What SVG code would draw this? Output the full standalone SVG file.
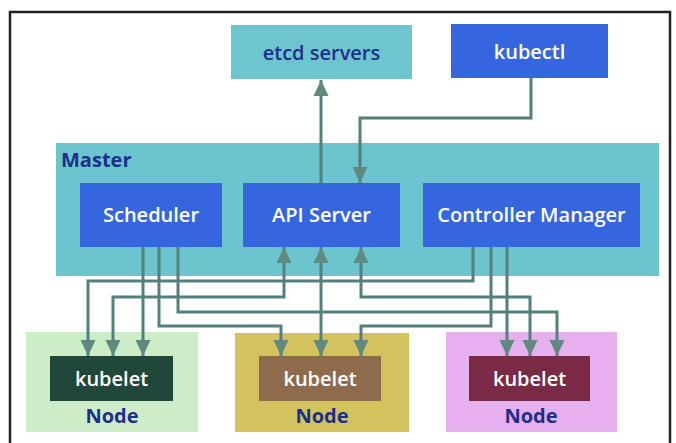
<svg xmlns="http://www.w3.org/2000/svg" width="676" height="443" viewBox="0 0 676 443">
<defs>
<style>
.lbl{font-family:"Open Sans","Liberation Sans",sans-serif;font-weight:600;font-size:20px;text-anchor:middle}
.w{fill:#ffffff}
.navy{fill:#1c2f8c}
.bold{font-weight:700}
.conn path{fill:none;stroke:#52807a;stroke-width:3}
.blue{fill:#3566e0}
</style>
<marker id="ah" viewBox="0 0 16 16" refX="16" refY="8" markerWidth="16" markerHeight="16" markerUnits="userSpaceOnUse" orient="auto-start-reverse">
<path d="M0,0.5 L16,8 L0,15.5 z" fill="#5f8a82"/>
</marker>
</defs>
<rect width="676" height="443" fill="#ffffff"/>
<path d="M10,443 V12 H670 V443" fill="none" stroke="#222" stroke-width="2.5"/>

<g id="etcd"><rect x="231" y="25" width="181" height="54" fill="#6fc5cf"/><text class="lbl navy" x="321.5" y="60">etcd servers</text></g>
<g id="kubectl"><rect x="451" y="24" width="157" height="54" class="blue" fill="#3a6ae3"/><text class="lbl w" x="529.5" y="59">kubectl</text></g>

<g id="master"><rect x="56" y="143" width="603" height="133" fill="#6cc4ce"/><text class="lbl navy bold" x="61" y="167" style="text-anchor:start">Master</text></g>
<g id="scheduler"><rect x="80" y="183" width="142" height="64" class="blue"/><text class="lbl w" x="151" y="222">Scheduler</text></g>
<g id="apiserver"><rect x="243" y="183" width="157" height="64" class="blue"/><text class="lbl w" x="321.5" y="222">API Server</text></g>
<g id="controller"><rect x="423" y="183" width="217" height="64" class="blue"/><text class="lbl w" x="531.5" y="222">Controller Manager</text></g>

<g id="node1"><rect x="26" y="332" width="172" height="100" fill="#cdedc8"/><rect x="50" y="356" width="123" height="45" fill="#21473a"/><text class="lbl w" x="111.5" y="386">kubelet</text><text class="lbl navy bold" x="112" y="423">Node</text></g>
<g id="node2"><rect x="235" y="333" width="174" height="99" fill="#d3c35e"/><rect x="259" y="356" width="122" height="45" fill="#8e6b4b"/><text class="lbl w" x="320" y="386">kubelet</text><text class="lbl navy bold" x="322" y="423">Node</text></g>
<g id="node3"><rect x="446" y="332" width="171" height="100" fill="#e6b0ee"/><rect x="469" y="356" width="121" height="45" fill="#7a2a45"/><text class="lbl w" x="529.5" y="386">kubelet</text><text class="lbl navy bold" x="531" y="423">Node</text></g>

<g class="conn">
<path d="M321,183 V80" marker-end="url(#ah)"/>
<path d="M531,78 V118 H360 V183" marker-end="url(#ah)"/>
<path d="M143,247 V356" marker-end="url(#ah)"/>
<path d="M159,247 V326 H281 V356" marker-end="url(#ah)"/>
<path d="M178,247 V312 H557 V356" marker-end="url(#ah)"/>
<path d="M473,247 V281 H88 V356" marker-end="url(#ah)"/>
<path d="M491,247 V326 H361 V356" marker-end="url(#ah)"/>
<path d="M507,247 V356" marker-end="url(#ah)"/>
<path d="M284,247 V297 H113 V356" marker-start="url(#ah)" marker-end="url(#ah)"/>
<path d="M321,247 V356" marker-start="url(#ah)" marker-end="url(#ah)"/>
<path d="M361,247 V297 H530 V356" marker-start="url(#ah)" marker-end="url(#ah)"/>
</g>
</svg>
